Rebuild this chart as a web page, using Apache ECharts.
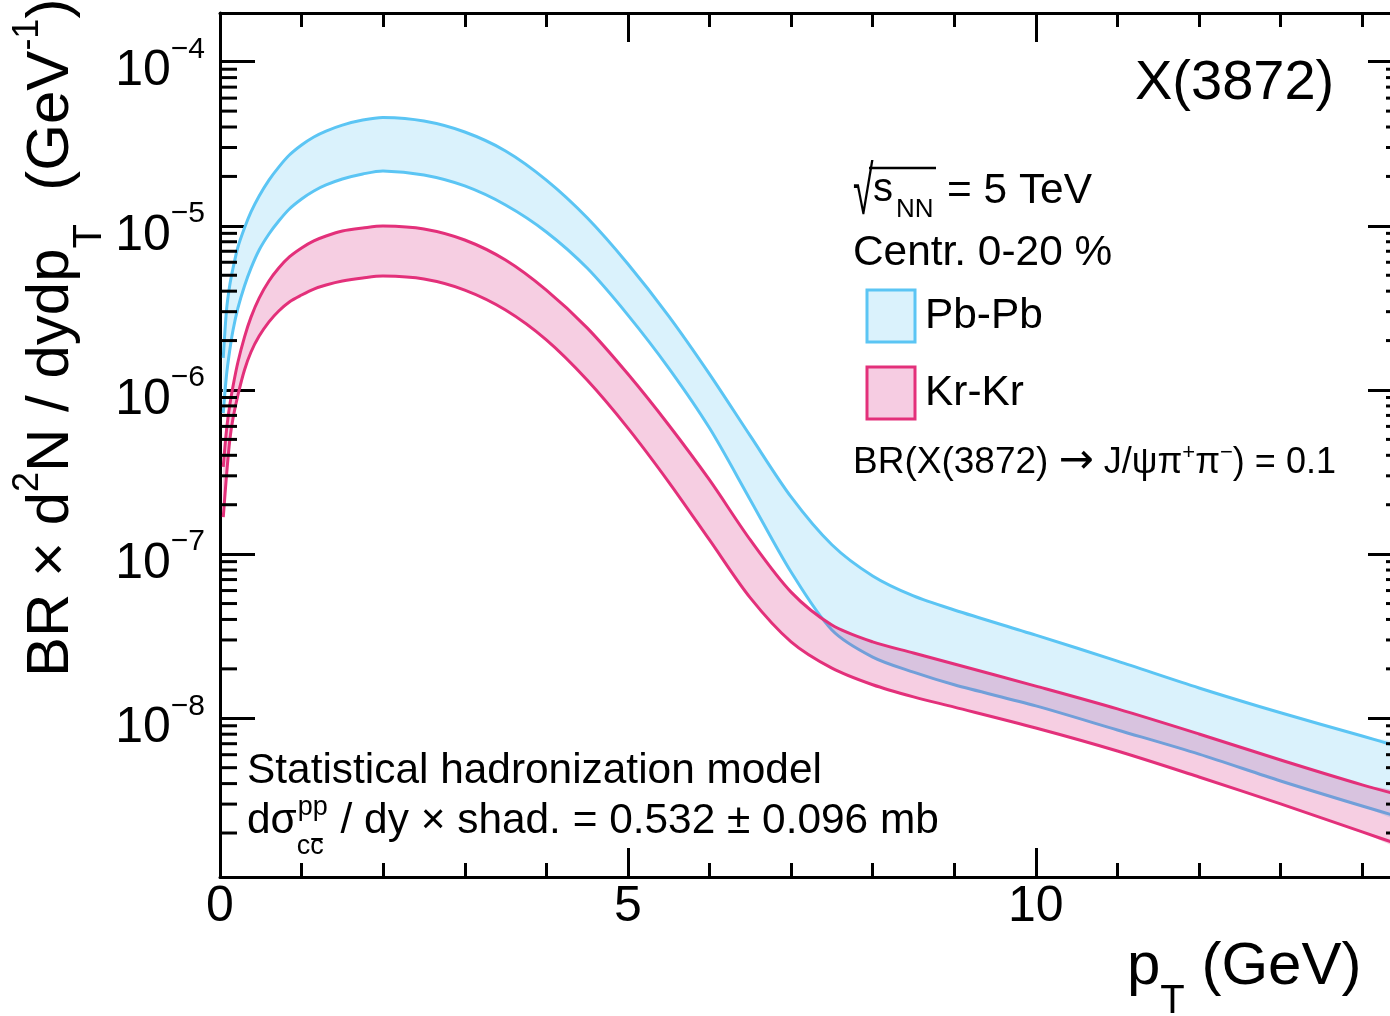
<!DOCTYPE html>
<html>
<head>
<meta charset="utf-8">
<script src="https://cdn.jsdelivr.net/npm/echarts@6/dist/echarts.min.js"></script>
<style>
html,body{margin:0;padding:0;background:#ffffff;}
#chart{width:1390px;height:1016px;}
</style>
</head>
<body>
<div id="chart"></div>
<script>
// ---------------- data ----------------
const pT = [0.04, 0.08, 0.12, 0.16, 0.22, 0.3, 0.38, 0.48, 0.6, 0.72, 0.85, 1.0, 1.15, 1.3, 1.5, 1.75, 2.0,
            2.5, 3.0, 3.5, 4.0, 4.5, 5.0, 5.5, 6.0, 6.5, 7.0, 7.5, 8.0, 8.5, 9.0, 10, 11, 12, 13, 14, 14.5];
const pbHigh = [1.57e-6, 3.07e-6, 4.36e-6, 5.53e-6, 7.43e-6, 9.70e-6, 1.215e-5, 1.52e-5, 1.90e-5, 2.28e-5, 2.70e-5, 3.11e-5, 3.48e-5, 3.78e-5, 4.11e-5, 4.41e-5, 4.57e-5,
                4.35e-5, 3.73e-5, 2.86e-5, 1.90e-5, 1.12e-5, 5.86e-6, 2.82e-6, 1.25e-6, 5.25e-7, 2.23e-7, 1.14e-7, 7.36e-8, 5.56e-8, 4.57e-8, 3.21e-8, 2.23e-8, 1.53e-8, 1.08e-8, 7.80e-9, 6.59e-9];
const pbLow  = [7.24e-7, 1.234e-6, 1.752e-6, 2.32e-6, 3.16e-6, 4.30e-6, 5.53e-6, 7.13e-6, 8.92e-6, 1.07e-5, 1.267e-5, 1.458e-5, 1.631e-5, 1.774e-5, 1.929e-5, 2.07e-5, 2.16e-5,
                2.04e-5, 1.75e-5, 1.34e-5, 9.18e-6, 5.53e-6, 2.86e-6, 1.36e-6, 5.86e-7, 2.14e-7, 7.78e-8, 3.45e-8, 2.36e-8, 1.91e-8, 1.60e-8, 1.19e-8, 8.49e-9, 6.05e-9, 4.15e-9, 2.92e-9, 2.47e-9];
const krHigh = [3.40e-7, 5.71e-7, 8.10e-7, 1.058e-6, 1.481e-6, 2.10e-6, 2.78e-6, 3.63e-6, 4.61e-6, 5.53e-6, 6.46e-6, 7.33e-6, 8.09e-6, 8.67e-6, 9.30e-6, 9.70e-6, 9.98e-6,
                9.57e-6, 8.20e-6, 6.19e-6, 4.06e-6, 2.39e-6, 1.25e-6, 6.12e-7, 2.83e-7, 1.22e-7, 5.87e-8, 3.70e-8, 2.92e-8, 2.50e-8, 2.14e-8, 1.57e-8, 1.14e-8, 8.02e-9, 5.57e-9, 3.93e-9, 3.37e-9];
const krLow  = [1.68e-7, 3.03e-7, 4.96e-7, 6.75e-7, 9.32e-7, 1.323e-6, 1.704e-6, 2.13e-6, 2.60e-6, 3.03e-6, 3.44e-6, 3.79e-6, 4.12e-6, 4.36e-6, 4.61e-6, 4.81e-6, 4.94e-6,
                4.74e-6, 4.06e-6, 3.07e-6, 2.02e-6, 1.15e-6, 5.86e-7, 2.75e-7, 1.22e-7, 5.41e-8, 2.92e-8, 2.02e-8, 1.60e-8, 1.35e-8, 1.17e-8, 8.73e-9, 6.32e-9, 4.39e-9, 3.01e-9, 2.03e-9, 1.67e-9];

const seriesNames = ['Pb-Pb', 'Kr-Kr'];
const xTickLabels = [0, 5, 10];
const yDecades = [-9, -8, -7, -6, -5, -4];
const yMinorMultipliers = [2, 3, 4, 5, 6, 7, 8, 9];

// ---------------- styling ----------------
const FONT = 'Liberation Sans, Arial, Helvetica, sans-serif';
const BLUE = '#5bc5f4';
const PINK = '#e3307a';
const BLUE_FILL = '#daf2fc';
const PINK_FILL = 'rgba(209,0,106,0.194)';
const X_MIN = 0, X_MAX = 14.5;
const Y_MIN = 1.079e-9, Y_MAX = 1.98e-4;
const SMOOTH = 0.3;

const yMinorTicks = [];
yDecades.forEach(function (d) {
  yMinorMultipliers.forEach(function (m) {
    const v = m * Math.pow(10, d);
    if (v > Y_MIN && v < Y_MAX) yMinorTicks.push(v);
  });
});

// ---------------- text layout helpers ----------------
const mctx = document.createElement('canvas').getContext('2d');
function tw(str, size, family) {
  mctx.font = size + 'px ' + (family || FONT);
  return mctx.measureText(str).width;
}
// pieces: [text, size, shift(+ = down in text frame), family]
function run(pieces, x0, base, rotated) {
  const els = [];
  let cur = rotated ? base.y : x0;
  pieces.forEach(function (p) {
    const t = p[0], size = p[1], shift = p[2] || 0, fam = p[3] || FONT;
    const w = tw(t, size, fam);
    const off = shift - 0.32 * size;
    if (!rotated) {
      els.push({ type: 'text', x: cur, y: base + off, silent: true, z: 100,
        style: { text: t, fontSize: size, fontFamily: fam, fill: '#000', align: 'left', verticalAlign: 'middle' } });
      cur += w;
    } else {
      els.push({ type: 'text', x: base.x + off, y: cur, rotation: Math.PI / 2, silent: true, z: 100,
        style: { text: t, fontSize: size, fontFamily: fam, fill: '#000', align: 'left', verticalAlign: 'middle' } });
      cur -= w;
    }
  });
  return els;
}

function bandSeries(name, lo, hi, fill, line, z) {
  return {
    type: 'custom',
    name: name,
    coordinateSystem: 'cartesian2d',
    xAxisIndex: 0, yAxisIndex: 0,
    z: z,
    silent: true,
    data: pT.map(function (x, i) { return [x, lo[i], hi[i]]; }),
    encode: { x: 0, y: [1, 2] },
    renderItem: function (params, api) {
      if (params.dataIndex !== 0) return null;
      const up = [], dn = [];
      for (let i = 0; i < pT.length; i++) {
        up.push(api.coord([pT[i], hi[i]]));
        dn.push(api.coord([pT[i], lo[i]]));
      }
      const poly = up.concat(dn.slice().reverse());
      return {
        type: 'group',
        children: [
          { type: 'polygon', shape: { points: poly, smooth: SMOOTH }, style: { fill: fill, stroke: null } },
          { type: 'polyline', shape: { points: up, smooth: SMOOTH }, style: { stroke: line, lineWidth: 3, fill: null } },
          { type: 'polyline', shape: { points: dn, smooth: SMOOTH }, style: { stroke: line, lineWidth: 3, fill: null } }
        ]
      };
    }
  };
}

const minorTickSeries = {
  type: 'custom',
  coordinateSystem: 'cartesian2d',
  xAxisIndex: 0, yAxisIndex: 0,
  z: 20, silent: true,
  data: yMinorTicks.map(function (v) { return [X_MIN, v]; }),
  renderItem: function (params, api) {
    const p = api.coord([X_MIN, api.value(1)]);
    const cs = params.coordSys;
    return {
      type: 'group',
      children: [
        { type: 'line', shape: { x1: cs.x, y1: p[1], x2: cs.x + 17, y2: p[1] }, style: { stroke: '#000', lineWidth: 3 } },
        { type: 'line', shape: { x1: cs.x + cs.width, y1: p[1], x2: cs.x + cs.width - 17, y2: p[1] }, style: { stroke: '#000', lineWidth: 3 } }
      ]
    };
  }
};

function xAxisDef(position, interval, tickLen, showLine, showLabel) {
  return {
    type: 'value', min: X_MIN, max: X_MAX, interval: interval, position: position,
    axisLine: { show: showLine, onZero: false, lineStyle: { color: '#000', width: 3 } },
    axisTick: { show: true, inside: true, length: tickLen, lineStyle: { color: '#000', width: 3 } },
    axisLabel: {
      show: showLabel, showMaxLabel: false, margin: 5,
      fontSize: 50, lineHeight: 50, fontFamily: FONT, color: '#000',
      formatter: function (v) { return xTickLabels.indexOf(v) >= 0 ? String(v) : ''; }
    },
    splitLine: { show: false }, minorTick: { show: false }
  };
}

function yAxisDef(position, showLabel) {
  return {
    type: 'log', logBase: 10, min: Y_MIN, max: Y_MAX, position: position,
    axisLine: { show: true, onZero: false, lineStyle: { color: '#000', width: 3 } },
    axisTick: { show: true, inside: true, length: 35, lineStyle: { color: '#000', width: 3 } },
    axisLabel: {
      show: showLabel, margin: 15, showMinLabel: false, showMaxLabel: false,
      padding: [8, 0, 0, 0],
      formatter: function (v) {
        const e = Math.log10(v);
        const r = Math.round(e);
        if (Math.abs(e - r) > 1e-6) return '';
        return '{b|10}{e|\u2212' + (-r) + '}';
      },
      rich: {
        b: { fontSize: 50, lineHeight: 62, verticalAlign: 'bottom', fontFamily: FONT, color: '#000' },
        e: { fontSize: 30, lineHeight: 30, verticalAlign: 'top', fontFamily: FONT, color: '#000' }
      }
    },
    splitLine: { show: false }, minorTick: { show: false }
  };
}

// ---------------- texts ----------------
const TXT = 42.4;
let graphics = [];
// y axis title (reads bottom -> top)
graphics = graphics.concat(run([
  ['BR \u00d7 d', 60, 0], ['2', 36, -31], ['N / dydp', 60, 0], ['T', 40, 32],
  ['  (GeV', 60, 0], ['-1', 36, -31], [')', 60, 0]
], 0, { x: 71, y: 677 }, true));
// x axis title
graphics = graphics.concat(run([
  ['p', 60, 0], ['T', 40, 28], [' (GeV)', 60, 0]
], 1127, 987, false));
// particle label
graphics = graphics.concat(run([['X(3872)', 56, 0]], 1135, 101.5, false));
// sqrt(s_NN) = 5 TeV
graphics.push({ type: 'text', x: 853, y: 195, scaleX: 0.55, silent: true, z: 100,
  style: { text: '\u221a', fontSize: 68, fontFamily: FONT, fill: '#000', align: 'left', verticalAlign: 'middle' } });
graphics.push({ type: 'line', silent: true, z: 100, shape: { x1: 869, y1: 168, x2: 936, y2: 168 }, style: { stroke: '#000', lineWidth: 2.5 } });
graphics = graphics.concat(run([['s', 40, 0]], 873, 203, false));
graphics = graphics.concat(run([['NN', 26, 0]], 896, 218, false));
graphics = graphics.concat(run([['= 5 TeV', TXT, 0]], 947, 205, false));
graphics = graphics.concat(run([['Centr. 0-20 %', TXT, 0]], 853, 267, false));
// branching ratio
graphics = graphics.concat(run([
  ['BR(X(3872) ', 37, 0], ['\u2192', 42, 1, 'DejaVu Sans'], [' J/\u03c8\u03c0', 36, 0], ['+', 22, -15],
  ['\u03c0', 36, 0], ['\u2212', 22, -15], [') = 0.1', 36, 0]
], 853, 475, false));
// model text
graphics = graphics.concat(run([['Statistical hadronization model', TXT, 0]], 247, 785, false));
const dsW = tw('d\u03c3', TXT);
graphics = graphics.concat(run([['d\u03c3', TXT, 0]], 247, 835, false));
graphics = graphics.concat(run([['pp', 27, 0]], 247 + dsW + 1, 816, false));
graphics = graphics.concat(run([['cc', 27, 0]], 247 + dsW, 855, false));
const cW = tw('c', 27);
graphics.push({ type: 'line', silent: true, z: 100,
  shape: { x1: 247 + dsW + cW + 1, y1: 839, x2: 247 + dsW + 2 * cW - 1, y2: 839 }, style: { stroke: '#000', lineWidth: 2 } });
graphics = graphics.concat(run([[' / dy \u00d7 shad. = 0.532 \u00b1 0.096 mb', TXT, 0]], 247 + dsW + Math.max(tw('pp', 27), 2 * cW) + 2, 835, false));

const chart = echarts.init(document.getElementById('chart'), null, { renderer: 'canvas' });

const option = {
  animation: false,
  backgroundColor: '#ffffff',
  grid: { left: 220, top: 13, width: 1183, height: 864, containLabel: false, outerBoundsMode: 'none' },
  xAxis: [
    xAxisDef('bottom', 5, 29, true, true),
    xAxisDef('top', 5, 29, true, false),
    xAxisDef('bottom', 1, 14, false, false),
    xAxisDef('top', 1, 14, false, false)
  ],
  yAxis: [
    yAxisDef('left', true),
    yAxisDef('right', false)
  ],
  legend: {
    orient: 'vertical', left: 865.5, top: 288.5, padding: 0,
    itemWidth: 48, itemHeight: 52, itemGap: 22,
    selectedMode: false,
    textStyle: { fontSize: TXT, fontFamily: FONT, color: '#000', padding: [0, 0, 0, 5] },
    data: [
      { name: seriesNames[0], icon: 'rect', itemStyle: { color: BLUE_FILL, borderColor: BLUE, borderWidth: 3 } },
      { name: seriesNames[1], icon: 'rect', itemStyle: { color: '#f6cce2', borderColor: PINK, borderWidth: 3 } }
    ]
  },
  series: [
    bandSeries(seriesNames[0], pbLow, pbHigh, BLUE_FILL, BLUE, 2),
    bandSeries(seriesNames[1], krLow, krHigh, PINK_FILL, PINK, 3),
    minorTickSeries
  ],
  graphic: graphics
};

chart.setOption(option);
</script>
</body>
</html>
